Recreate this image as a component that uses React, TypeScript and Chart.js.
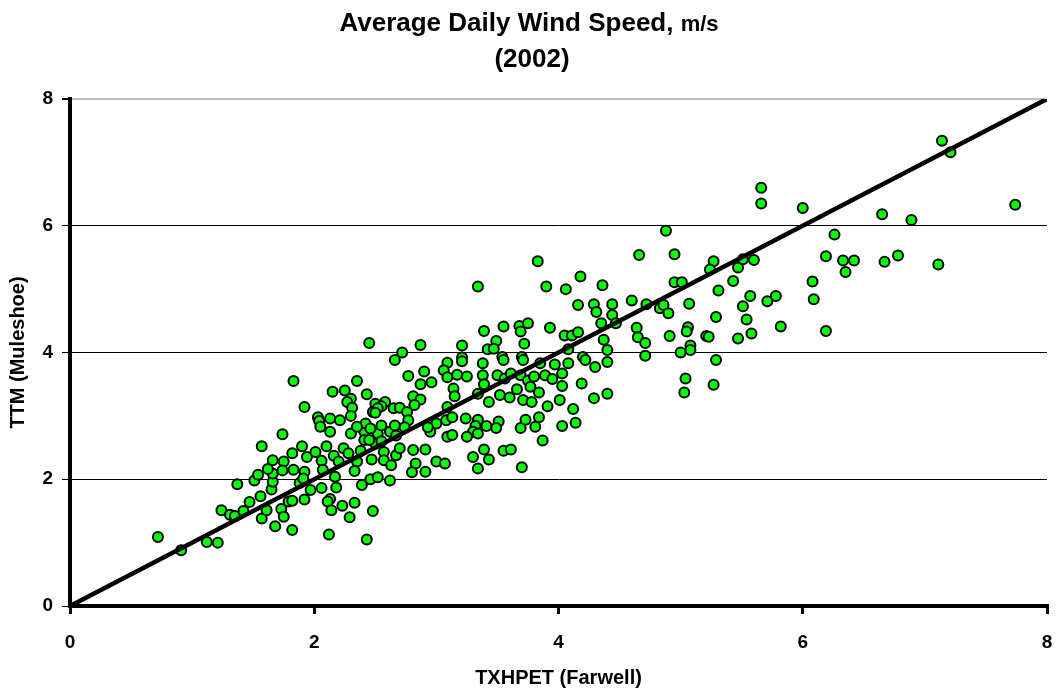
import React, { useEffect, useRef } from "react";
import { Chart, registerables } from "chart.js";
Chart.register(...registerables);

// TXHPET (Farwell) daily average wind speed, m/s
const xValues = [
  0.72, 0.91, 1.12, 1.21, 1.24, 1.31, 1.35, 1.37, 1.42, 1.47, 1.51, 1.54, 1.56, 1.57, 1.57, 1.61, 1.65, 1.66, 1.66, 1.66,
  1.68, 1.73, 1.74, 1.75, 1.75, 1.62, 1.74, 1.79,
  1.82, 1.90, 1.94, 2.01, 2.10, 2.16, 2.24, 2.28, 2.06, 2.35, 2.47, 2.57, 2.57, 2.67, 2.63, 2.70, 2.81, 2.91, 3.00, 3.07,
  2.83, 2.80, 2.91, 1.83, 1.92, 2.07, 2.17, 2.33, 2.39, 2.46, 2.52, 2.62, 1.88, 1.97, 2.06, 2.18, 1.92, 1.82, 2.13, 2.11,
  2.14, 2.23, 2.33, 2.29, 2.48, 1.82, 2.12, 2.43, 2.13, 2.30, 2.41, 2.52, 2.62, 2.95, 2.41, 2.50, 2.67, 3.09,
  1.91, 2.20, 2.38, 2.45, 2.55,
  2.45, 2.87, 2.72, 2.66, 3.09, 3.06, 2.90, 3.09, 2.77, 2.87, 2.96, 1.83, 2.35, 2.15, 2.25, 2.43, 2.30, 2.27, 2.31, 2.81,
  2.87, 2.82, 1.92, 2.50, 2.58, 2.55, 2.48, 2.52, 2.65, 2.70, 2.76, 2.50, 2.30, 2.03, 2.13, 2.04, 2.21, 2.42, 2.55, 2.66,
  2.77, 3.08, 3.00, 2.05, 2.35, 2.46, 2.74, 2.93, 3.09,
  3.83, 3.34, 3.90, 4.06, 4.18, 4.36, 4.16, 4.29, 4.31, 4.35, 4.37, 4.40, 3.39, 3.55, 3.68, 3.75, 3.69, 3.93, 3.72, 3.49,
  3.42, 3.47, 3.21, 4.05, 4.11, 4.16, 4.08, 3.21, 3.54, 3.70, 4.20,
  3.21, 3.38, 3.55, 3.71, 3.85, 3.97, 4.08, 4.22, 4.30, 4.40, 3.17, 3.25, 3.38, 3.39, 3.50, 3.56, 3.61, 3.69, 3.75, 3.80,
  3.89, 3.95, 4.03, 4.03, 4.19, 4.40, 4.29, 3.14, 3.15, 3.34, 3.43, 3.52, 3.60, 3.66, 3.71, 3.77, 3.78, 3.84, 3.91, 4.01,
  4.12, 3.13, 3.24, 3.34, 3.41, 3.51, 3.49, 3.32, 3.30, 3.34, 3.25, 3.13, 3.69, 3.73, 3.81, 3.84, 4.03, 4.14, 3.87, 3.39,
  3.55, 3.61, 3.30, 3.43, 3.34, 3.70,
  5.66, 5.66, 4.88, 4.66, 4.95, 5.27, 5.24, 5.47, 5.51, 5.60, 5.43, 4.95, 5.01, 5.31,
  4.44, 4.60, 4.72, 4.83, 4.86, 4.90, 5.07, 5.57, 5.71, 5.51, 5.29, 5.54, 4.44, 4.47, 4.64, 4.65, 4.71, 4.71, 4.91, 5.06,
  5.05, 5.21, 5.23, 5.47, 5.58, 5.08, 5.00, 5.08, 5.29, 5.04, 5.27, 5.03,
  6.00, 7.14, 7.21, 7.74, 6.65, 6.89, 6.26, 6.19, 6.33, 6.42, 6.35, 6.67, 6.78, 7.11, 6.08, 5.78, 6.09, 5.82, 6.19,
];

// TTM (Muleshoe) daily average wind speed, m/s
const yValues = [
  1.09, 0.88, 1.01, 1.00, 1.51, 1.44, 1.42, 1.92, 1.50, 1.64, 1.98, 2.07, 1.73, 1.38, 2.52, 1.51, 1.84, 1.96, 2.09, 2.30,
  1.26, 1.53, 2.71, 1.41, 2.28, 2.16, 2.14, 1.65,
  2.41, 2.52, 2.35, 2.43, 2.52, 2.37, 2.49, 2.41, 2.29, 2.28, 2.31, 2.43, 2.30, 2.38, 2.22, 2.49, 2.46, 2.47, 2.28, 2.25,
  2.25, 2.11, 2.12, 2.15, 2.12, 2.15, 2.04, 2.13, 1.91, 2.00, 2.03, 1.98, 1.94, 1.83, 1.86, 1.87, 1.68, 1.66, 1.69, 1.65,
  1.51, 1.58, 1.63, 1.40, 1.50, 1.20, 1.13, 1.05, 2.75, 2.72, 2.75, 2.72, 2.75, 2.75, 2.62, 2.56, 2.69, 2.67,
  2.01, 2.28, 2.45, 2.62, 2.60,
  4.15, 4.12, 4.00, 3.88, 3.84, 3.72, 3.70, 3.61, 3.63, 3.50, 3.53, 3.55, 3.55, 3.38, 3.40, 3.34, 3.27, 3.22, 3.13, 3.31,
  3.26, 3.17, 3.14, 3.19, 3.22, 3.15, 3.06, 3.12, 3.12, 3.13, 3.06, 3.05, 3.00, 2.98, 2.96, 2.92, 2.93, 2.88, 2.85, 2.85,
  2.93, 2.93, 2.88, 2.83, 2.83, 2.80, 2.82, 2.82, 3.14,
  5.44, 5.04, 5.04, 5.00, 5.20, 5.06, 4.75, 4.76, 4.64, 4.46, 4.20, 4.04, 4.34, 4.41, 4.42, 4.46, 4.33, 4.39, 4.14, 4.18,
  4.05, 4.06, 4.11, 4.27, 4.27, 4.32, 4.05, 3.92, 3.93, 3.93, 3.93,
  3.86, 3.83, 3.88, 3.88, 3.83, 3.81, 3.83, 3.88, 3.77, 3.85, 3.65, 3.62, 3.64, 3.50, 3.64, 3.59, 3.67, 3.64, 3.56, 3.62,
  3.64, 3.58, 3.67, 3.47, 3.51, 3.35, 3.28, 3.43, 3.31, 3.35, 3.22, 3.33, 3.29, 3.42, 3.25, 3.46, 3.22, 3.37, 3.15, 3.25,
  3.11, 2.98, 2.96, 2.94, 2.84, 2.91, 2.81, 2.84, 2.75, 2.72, 2.67, 2.70, 2.81, 2.94, 2.83, 2.98, 2.84, 2.89, 2.61, 2.47,
  2.45, 2.47, 2.35, 2.31, 2.17, 2.19,
  6.60, 6.35, 5.92, 5.54, 5.55, 5.44, 5.31, 5.34, 5.47, 5.46, 5.13, 5.11, 5.11, 4.98,
  4.76, 4.82, 4.76, 4.70, 4.75, 4.62, 4.77, 4.89, 4.81, 4.73, 4.56, 4.52, 4.59, 4.46, 4.39, 4.24, 4.15, 3.95, 4.26, 4.40,
  4.33, 4.26, 4.25, 4.22, 4.30, 4.11, 4.00, 4.04, 3.88, 3.59, 3.49, 3.37,
  6.28, 7.34, 7.16, 6.33, 6.18, 6.09, 5.86, 5.52, 5.45, 5.45, 5.27, 5.43, 5.53, 5.39, 5.12, 4.89, 4.84, 4.41, 4.34,
];

// 1:1 reference line
const lineX = [0, 8];
const lineY = [0, 8];

const axisMin = 0;
const axisMax = 8;
const axisStep = 2;

const titleMain = "Average Daily Wind Speed, ";
const titleUnit = "m/s";
const titleYear = "(2002)";
const xTitle = "TXHPET (Farwell)";
const yTitle = "TTM (Muleshoe)";

const FONT = "'Liberation Sans', Arial, sans-serif";

const titlePlugin = {
  id: "customTitle",
  afterDraw(chart: any) {
    const ctx = chart.ctx;
    ctx.save();
    ctx.fillStyle = "#000";
    ctx.textBaseline = "alphabetic";
    const mainFont = `bold 26px ${FONT}`;
    const unitFont = `bold 22px ${FONT}`;
    ctx.font = mainFont;
    const w1 = ctx.measureText(titleMain).width;
    ctx.font = unitFont;
    const w2 = ctx.measureText(titleUnit).width;
    const cx = 529;
    const start = cx - (w1 + w2) / 2;
    ctx.textAlign = "left";
    ctx.font = mainFont;
    ctx.fillText(titleMain, start, 31);
    ctx.font = unitFont;
    ctx.fillText(titleUnit, start + w1, 31);
    ctx.font = mainFont;
    ctx.textAlign = "center";
    ctx.fillText(titleYear, 532, 67);
    ctx.restore();
  },
};

export default function App() {
  const ref = useRef<HTMLCanvasElement>(null);
  useEffect(() => {
    if (!ref.current) return;
    const points = xValues.map((x, i) => ({ x, y: yValues[i] }));
    const line = lineX.map((x, i) => ({ x, y: lineY[i] }));
    const chart = new Chart(ref.current, {
      type: "scatter",
      data: {
        datasets: [
          {
            data: line,
            showLine: true,
            borderColor: "#000",
            borderWidth: 4.5,
            pointRadius: 0,
            order: 0,
          } as any,
          {
            data: points,
            backgroundColor: "#00ff00",
            borderColor: "#000",
            borderWidth: 2,
            pointRadius: 5,
            order: 1,
          },
        ],
      },
      options: {
        responsive: false,
        animation: false,
        devicePixelRatio: 1,
        layout: { padding: { top: 99, right: 10, left: 0, bottom: 0 } },
        plugins: { legend: { display: false }, tooltip: { enabled: false } },
        scales: {
          x: {
            type: "linear",
            min: axisMin,
            max: axisMax,
            ticks: {
              stepSize: axisStep,
              color: "#000",
              padding: 17,
              font: { family: FONT, size: 19, weight: "bold" },
            },
            grid: { drawOnChartArea: false, drawTicks: true, tickLength: 8, color: "#000", tickColor: "#000", lineWidth: 3 },
            border: { display: true, color: "#000", width: 4 },
            title: {
              display: true,
              text: xTitle,
              color: "#000",
              font: { family: FONT, size: 20, weight: "bold" },
              padding: { top: 0, bottom: 6 },
            },
            afterFit: (s: any) => {
              s.height = 90;
              s.paddingLeft = 0;
              s.paddingRight = 0;
            },
          },
          y: {
            type: "linear",
            min: axisMin,
            max: axisMax,
            ticks: {
              stepSize: axisStep,
              color: "#000",
              padding: 9,
              font: { family: FONT, size: 19, weight: "bold" },
            },
            grid: {
              color: (c: any) => (c.tick && c.tick.value === 8 ? "#bdbdbd" : "#000"),
              lineWidth: (c: any) => (c.tick && c.tick.value === 8 ? 2 : 1),
              drawTicks: true,
              tickLength: 8,
              tickColor: "#000",
            },
            border: { display: true, color: "#000", width: 4 },
            title: {
              display: true,
              text: yTitle,
              color: "#000",
              font: { family: FONT, size: 20, weight: "bold" },
              padding: { top: 6, bottom: 0 },
            },
            afterFit: (s: any) => {
              s.width = 70;
              s.paddingTop = 0;
              s.paddingBottom = 0;
            },
          },
        },
      },
      plugins: [titlePlugin],
    });
    return () => chart.destroy();
  }, []);
  return (
    <div style={{ position: "fixed", left: 0, top: 0, width: 1057, height: 696, background: "#fff" }}>
      <canvas ref={ref} width={1057} height={696} style={{ display: "block" }} />
    </div>
  );
}
